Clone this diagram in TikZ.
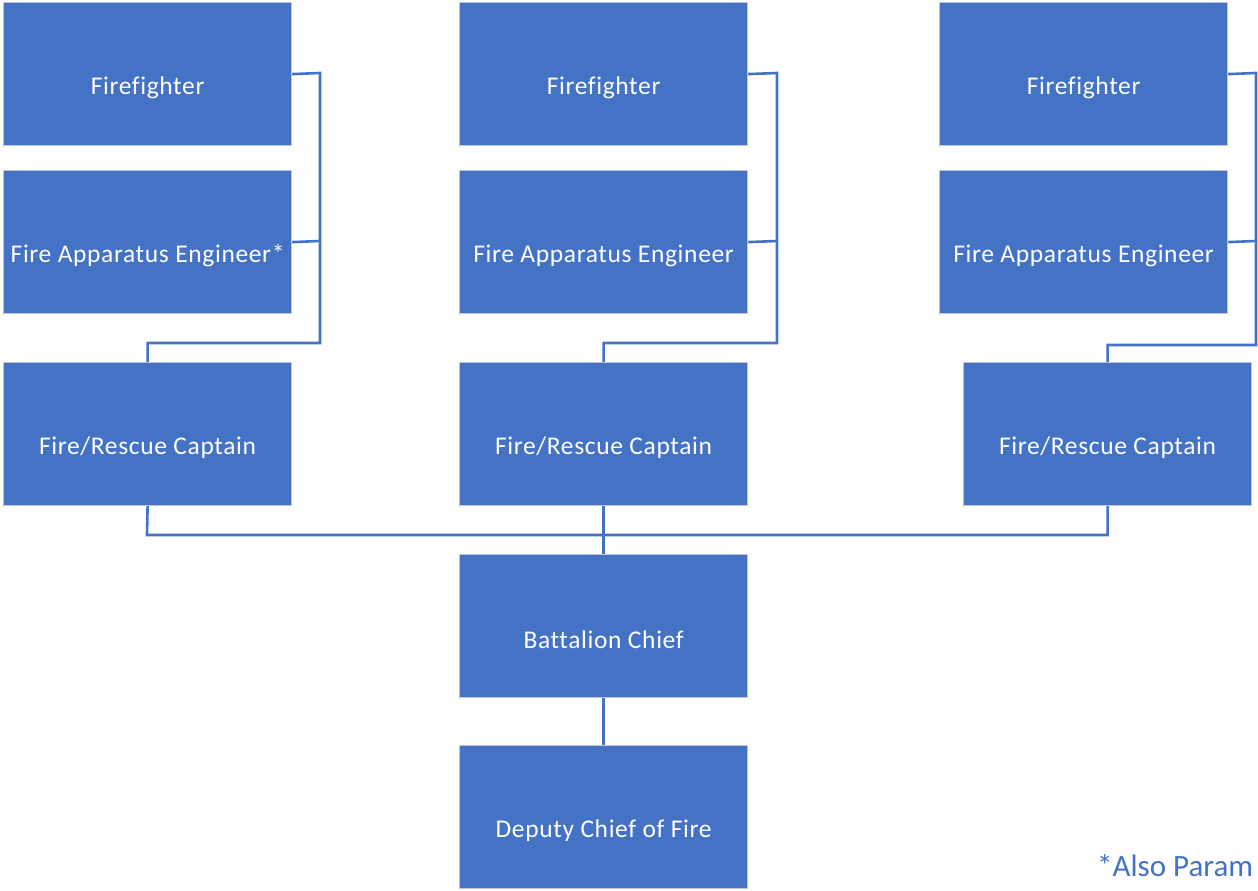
\documentclass[tikz,border=0pt]{standalone}
\usepackage{fontspec}
\setmainfont{Carlito}[Ligatures=NoCommon]
\newfontfamily\boxfont{Carlito}[Ligatures=NoCommon,LetterSpace=2.5]
\definecolor{boxblue}{HTML}{4472C4}
\definecolor{boxedge}{HTML}{BFC7D5}
\begin{document}
\begin{tikzpicture}[x=1pt,y=-1pt,
  role/.style={draw=boxedge,line width=1.2pt,fill=boxblue,
    minimum width=288pt,minimum height=143pt,inner sep=0pt,anchor=north west},
  roletext/.style={text=white,font=\boxfont\fontsize{25.5}{30}\selectfont,inner sep=0pt,yshift=-14pt},
  link/.style={draw=boxblue,line width=2.6pt}]
\useasboundingbox (0,0) rectangle (1258,891);
% column 1
\node[role] (ff1) at (3,2) {};
\node[roletext] (tff1) at (ff1.center) {Firefighter};
\node[role] (en1) at (3,170) {};
\node[roletext] (ten1) at (en1.center) {Fire Apparatus Engineer*};
\node[role] (ca1) at (3,362) {};
\node[roletext] (tca1) at (ca1.center) {Fire/Rescue Captain};
% column 2
\node[role] (ff2) at (459,2) {};
\node[roletext] (tff2) at (ff2.center) {Firefighter};
\node[role] (en2) at (459,170) {};
\node[roletext] (ten2) at (en2.center) {Fire Apparatus Engineer};
\node[role] (ca2) at (459,362) {};
\node[roletext] (tca2) at (ca2.center) {Fire/Rescue Captain};
\node[role] (bc) at (459,554) {};
\node[roletext] (tbc) at (bc.center) {Battalion Chief};
\node[role] (dc) at (459,745) {};
\node[roletext] (tdc) at (dc.center) {Deputy Chief of Fire};
% column 3
\node[role] (ff3) at (939,2) {};
\node[roletext] (tff3) at (ff3.center) {Firefighter};
\node[role] (en3) at (939,170) {};
\node[roletext] (ten3) at (en3.center) {Fire Apparatus Engineer};
\node[role] (ca3) at (963,362) {};
\node[roletext] (tca3) at (ca3.center) {Fire/Rescue Captain};
% note
\node[anchor=base west,inner sep=0pt,text=boxblue,font=\fontsize{31}{36}\selectfont] (note) at (1097,876) {*Also Param};
% connectors
\draw[link] (ff1.east) -- (320,73) -- (320,343) -| (ca1.north);
\draw[link] (en1.east) -- (320,241);
\draw[link] (ff2.east) -- (777,73) -- (777,343) -| (ca2.north);
\draw[link] (en2.east) -- (777,241);
\draw[link] (ff3.east) -- (1256,73) -- (1256,345) -| (ca3.north);
\draw[link] (en3.east) -- (1256,241);
\draw[link] (ca1.south) -- (147,535) -| (ca3.south);
\draw[link] (ca2.south) -- (bc.north);
\draw[link] (bc.south) -- (dc.north);
\end{tikzpicture}
\end{document}
